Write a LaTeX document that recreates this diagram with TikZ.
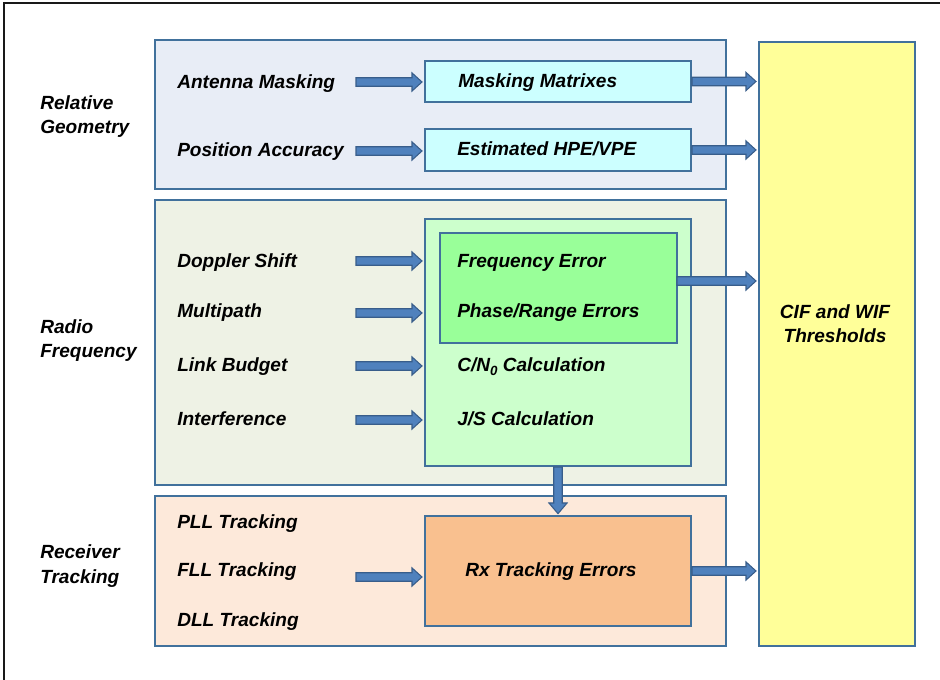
\documentclass[tikz,border=0pt]{standalone}
\usepackage{fontspec}
\setmainfont{Liberation Sans}
\usetikzlibrary{fit,calc}
\definecolor{bordc}{HTML}{41719C}
\definecolor{arrfill}{HTML}{4F81BD}
\definecolor{arrdraw}{HTML}{385D8A}
\definecolor{pblue}{HTML}{E8EDF6}
\definecolor{pgreen}{HTML}{EEF2E5}
\definecolor{ppeach}{HTML}{FDE9DA}
\definecolor{bcyan}{HTML}{CCFFFF}
\definecolor{blgreen}{HTML}{CCFFCC}
\definecolor{bdgreen}{HTML}{99FF99}
\definecolor{borange}{HTML}{F9C08F}
\definecolor{byellow}{HTML}{FFFF99}
\newcommand\lblfont{\fontsize{14.3}{18}\selectfont\bfseries\itshape}
\tikzset{
  panel/.style={draw=bordc, line width=1.5pt, inner sep=0pt},
  lbl/.style={anchor=base west, inner sep=0pt, font=\lblfont},
  ctr/.style={anchor=base, inner sep=0pt, font=\lblfont, align=center},
  blockarrow/.style={fill=arrfill, draw=arrdraw, line width=0.8pt, line join=miter},
}
% horizontal block arrow from #1 to #2 (y of #1)
\newcommand\hblock[2]{%
  \path[blockarrow] let \p1=(#1), \p2=(#2) in
    (\x1,\y1+3.2pt) -- (\x2-9pt,\y1+3.2pt) -- (\x2-9pt,\y1+6.8pt) -- (\x2-1.5pt,\y1)
    -- (\x2-9pt,\y1-6.8pt) -- (\x2-9pt,\y1-3.2pt) -- (\x1,\y1-3.2pt) -- cycle;}
% vertical (downward) block arrow from #1 to #2 (x of #1)
\newcommand\vblock[2]{%
  \path[blockarrow] let \p1=(#1), \p2=(#2) in
    (\x1-3.2pt,\y1) -- (\x1-3.2pt,\y2+9pt) -- (\x1-6.8pt,\y2+9pt) -- (\x1,\y2+1pt)
    -- (\x1+6.8pt,\y2+9pt) -- (\x1+3.2pt,\y2+9pt) -- (\x1+3.2pt,\y1) -- cycle;}
\begin{document}
\begin{tikzpicture}[x=0.75pt,y=-0.75pt]
\useasboundingbox (0,0) rectangle (940,680);
% outer frame
\draw[line width=1.5pt, black!90] (4,682) -- (4,3) -- (942,3);

% panels
\node[panel, fill=pblue, fit={(155,40) (726,189)}] (rg) {};
\node[panel, fill=pgreen, fit={(155,200) (726,485)}] (rf) {};
\node[panel, fill=ppeach, fit={(155,496) (726,646)}] (rt) {};
\node[panel, fill=byellow, fit={(759,42) (915,646)}] (thr) {};

% inner boxes
\node[panel, fill=bcyan, fit={(425,61) (691,102)}] (mm) {};
\node[panel, fill=bcyan, fit={(425,129) (691,171)}] (hpe) {};
\node[panel, fill=blgreen, fit={(425,219) (691,466)}] (lg) {};
\node[panel, fill=bdgreen, fit={(440,233) (677,343)}] (dg) {};
\node[panel, fill=borange, fit={(425,516) (691,626)}] (rx) {};

% group labels
\node[lbl] (lrg1) at (40,110) {Relative};
\node[lbl] (lrg2) at (40,134) {Geometry};
\node[lbl] (lrf1) at (40,334) {Radio};
\node[lbl] (lrf2) at (40,358) {Frequency};
\node[lbl] (lrt1) at (40,559) {Receiver};
\node[lbl] (lrt2) at (40,584) {Tracking};

% input labels
\node[lbl] (am) at (177,89) {Antenna Masking};
\node[lbl] (pa) at (177,157) {Position Accuracy};
\node[lbl] (ds) at (177,268) {Doppler Shift};
\node[lbl] (mp) at (177,318) {Multipath};
\node[lbl] (lb) at (177,372) {Link Budget};
\node[lbl] (itf) at (177,426) {Interference};
\node[lbl] (pll) at (177,529) {PLL Tracking};
\node[lbl] (fll) at (177,577) {FLL Tracking};
\node[lbl] (dll) at (177,627) {DLL Tracking};

% box texts
\node[lbl] (tmm) at (458,88) {Masking Matrixes};
\node[lbl] (thpe) at (457,156) {Estimated HPE/VPE};
\node[lbl] (tfe) at (457,268) {Frequency Error};
\node[lbl] (tpr) at (457,318) {Phase/Range Errors};
\node[lbl] (tcn) at (457,372) {C/N\raisebox{-0.35ex}{\fontsize{10}{10}\selectfont 0} Calculation};
\node[lbl] (tjs) at (457,426) {J/S Calculation};
\node[lbl] (trx) at (465,577) {Rx Tracking Errors};
\node[ctr] (tthr1) at (835,319) {CIF and WIF};
\node[ctr] (tthr2) at (835,343) {Thresholds};

% arrow start coordinates
\coordinate (a1) at (356,82);
\coordinate (a2) at (356,151);
\coordinate (a3) at (356,261);
\coordinate (a4) at (356,313);
\coordinate (a5) at (356,366);
\coordinate (a6) at (356,420);
\coordinate (a7) at (356,577);
\coordinate (fo) at (677,281);

% input arrows
\hblock{a1}{a1 -| mm.west}
\hblock{a2}{a2 -| hpe.west}
\hblock{a3}{a3 -| lg.west}
\hblock{a4}{a4 -| lg.west}
\hblock{a5}{a5 -| lg.west}
\hblock{a6}{a6 -| lg.west}
\hblock{a7}{a7 -| rx.west}

% output arrows
\hblock{mm.east}{mm.east -| thr.west}
\hblock{hpe.east}{hpe.east -| thr.west}
\hblock{fo}{fo -| thr.west}
\hblock{rx.east}{rx.east -| thr.west}

% vertical arrow
\vblock{lg.south}{rx.north}
\end{tikzpicture}
\end{document}
